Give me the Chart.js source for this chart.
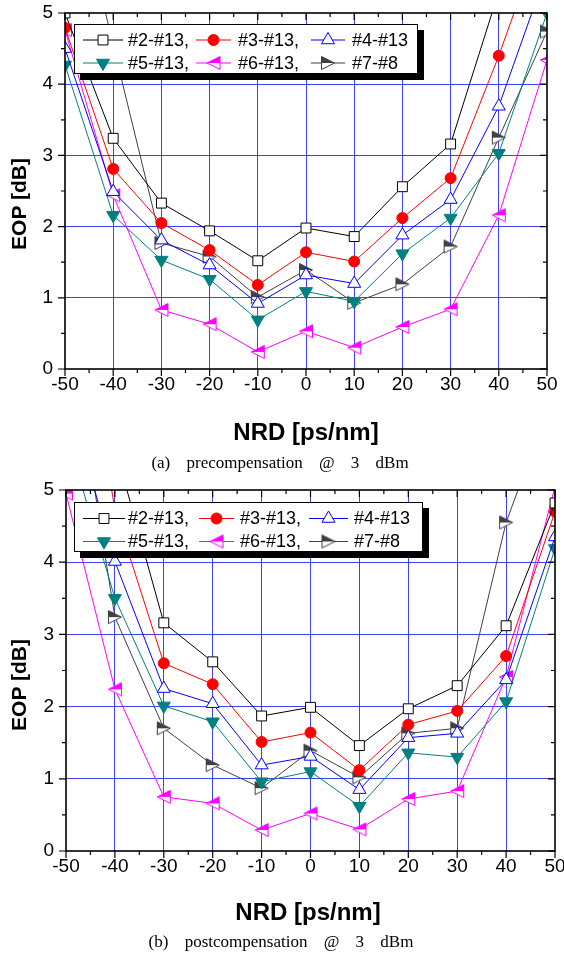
<!DOCTYPE html>
<html><head><meta charset="utf-8">
<script src="https://cdn.jsdelivr.net/npm/chart.js@4.4.0/dist/chart.umd.min.js"></script>
<style>
html,body{margin:0;padding:0;background:#fff;width:564px;height:960px;overflow:hidden;position:relative;}
.wrap{position:absolute;left:0;width:564px;}
.ytitle{position:absolute;font:bold 21px "Liberation Sans",Arial,sans-serif;transform:translate(-50%,-50%) rotate(-90deg);white-space:nowrap;color:#000;}
.xtitle{position:absolute;font:bold 24px "Liberation Sans",Arial,sans-serif;transform:translate(-50%,-50%);white-space:nowrap;color:#000;}
.cap{position:absolute;font:17px "Liberation Serif","Times New Roman",serif;transform:translate(-50%,-50%);word-spacing:12px;white-space:nowrap;color:#000;}
</style></head>
<body>
<div class="wrap" style="top:0;height:450px"><canvas id="c1" width="564" height="450"></canvas></div>
<div class="wrap" style="top:470px;height:460px"><canvas id="c2" width="564" height="460"></canvas></div>
<div class="ytitle" style="left:19px;top:204px">EOP [dB]</div>
<div class="xtitle" style="left:306px;top:432px">NRD [ps/nm]</div>
<div class="cap" style="left:280px;top:463px">(a) precompensation @ 3 dBm</div>
<div class="ytitle" style="left:19px;top:685px">EOP [dB]</div>
<div class="xtitle" style="left:308px;top:912px">NRD [ps/nm]</div>
<div class="cap" style="left:281px;top:942px">(b) postcompensation @ 3 dBm</div>
<script>
// ---------------- data ----------------
const nrd = [-50,-40,-30,-20,-10,0,10,20,30,40,50];
const xTickValues = [-50,-40,-30,-20,-10,0,10,20,30,40,50];
const xTickLabels = ['-50','-40','-30','-20','-10','0','10','20','30','40','50'];
const yTickValues = [0,1,2,3,4,5];
const yTickLabels = ['0','1','2','3','4','5'];
const seriesNames = ['#2-#13,','#3-#13,','#4-#13','#5-#13,','#6-#13,','#7-#8'];

// (a) precompensation @ 3 dBm
const preS2 = [5.00, 3.24, 2.33, 1.94, 1.52, 1.98, 1.86, 2.56, 3.16, 5.30, 7.00];
const preS3 = [4.79, 2.81, 2.05, 1.67, 1.18, 1.64, 1.51, 2.12, 2.68, 4.40, 6.30];
const preS4 = [4.50, 2.49, 1.81, 1.46, 0.92, 1.32, 1.20, 1.88, 2.38, 3.69, 5.60];
const preS5 = [4.27, 2.16, 1.53, 1.26, 0.69, 1.09, 0.95, 1.62, 2.12, 3.03, 5.00];
const preS6 = [4.76, 2.44, 0.83, 0.63, 0.24, 0.53, 0.30, 0.59, 0.84, 2.16, 4.34];
const preS7 = [7.40, 4.55, 1.77, 1.58, 1.01, 1.39, 0.93, 1.19, 1.72, 3.25, 4.74];

// (b) postcompensation @ 3 dBm
const postS2 = [9.00, 5.60, 3.16, 2.62, 1.87, 1.99, 1.46, 1.97, 2.29, 3.12, 4.82];
const postS3 = [9.00, 4.72, 2.60, 2.31, 1.51, 1.64, 1.12, 1.75, 1.94, 2.70, 4.70];
const postS4 = [6.40, 4.01, 2.25, 2.04, 1.19, 1.31, 0.85, 1.57, 1.63, 2.37, 4.35];
const postS5 = [5.80, 3.50, 2.01, 1.79, 0.96, 1.10, 0.62, 1.36, 1.30, 2.07, 4.19];
const postS6 = [4.95, 2.24, 0.75, 0.66, 0.29, 0.52, 0.30, 0.72, 0.83, 2.41, 5.05];
const postS7 = [7.50, 3.24, 1.70, 1.19, 0.87, 1.39, 1.02, 1.63, 1.70, 4.55, 6.40];

// ---------------- styles ----------------
function halfTri(dir, color) {
  const c = document.createElement('canvas'); c.width = 16; c.height = 16;
  const g = c.getContext('2d');
  let tip, b1, b2;
  if (dir === 'left') { tip = [1.5, 8]; b1 = [14.5, 1.5]; b2 = [14.5, 14.5]; }
  else { tip = [14.5, 8]; b1 = [1.5, 1.5]; b2 = [1.5, 14.5]; }
  g.beginPath(); g.moveTo(tip[0], tip[1]); g.lineTo(b1[0], b1[1]); g.lineTo(b2[0], b2[1]); g.closePath();
  g.fillStyle = '#fff'; g.fill();
  g.beginPath(); g.moveTo(tip[0], tip[1]); g.lineTo(b1[0], b1[1]); g.lineTo(b1[0], 8); g.closePath();
  g.fillStyle = color; g.fill();
  g.beginPath(); g.moveTo(tip[0], tip[1]); g.lineTo(b1[0], b1[1]); g.lineTo(b2[0], b2[1]); g.closePath();
  g.strokeStyle = color; g.lineWidth = 1; g.stroke();
  return c;
}
const styles = [
  {line:'#000000', ps:'rect', r:7, bg:'#ffffff', bc:'#000000', rot:0},
  {line:'#ff0000', ps:'circle', r:5.5, bg:'#ff0000', bc:'#ff0000', rot:0},
  {line:'#0000ff', ps:'triangle', r:7.5, bg:'#ffffff', bc:'#0000ff', rot:0},
  {line:'#008080', ps:'triangle', r:7.5, bg:'#008080', bc:'#008080', rot:180},
  {line:'#ff00ff', ps:halfTri('left', '#ff00ff'), r:7, bg:'#ff00ff', bc:'#ff00ff', rot:0},
  {line:'#404040', ps:halfTri('right', '#404040'), r:7, bg:'#404040', bc:'#404040', rot:0}
];
const xMinor = []; for (let v = -50; v <= 50; v += 5) xMinor.push(v);
const yMinor = []; for (let v = 0; v <= 5.001; v += 0.5) yMinor.push(Math.round(v*10)/10);

const tickFont = {family:'"Liberation Sans", Arial, sans-serif', size:19};

const framePlugin = {
  id: 'frame',
  afterDatasetsDraw(chart, args, o) {
    const ctx = chart.ctx, a = chart.chartArea, xs = chart.scales.x, ys = chart.scales.y;
    ctx.save();
    ctx.strokeStyle = '#000'; ctx.lineWidth = 1.2;
    ctx.beginPath();
    for (const v of xMinor) {
      const px = xs.getPixelForValue(v);
      const L = (v % 10 === 0) ? 7 : 4;
      ctx.moveTo(px, a.bottom); ctx.lineTo(px, a.bottom + L);
      ctx.moveTo(px, a.top); ctx.lineTo(px, a.top + L);
    }
    for (const v of yMinor) {
      const py = ys.getPixelForValue(v);
      const L = (Math.abs(v - Math.round(v)) < 1e-6) ? 7 : 4;
      ctx.moveTo(a.left, py); ctx.lineTo(a.left - L, py);
      ctx.moveTo(a.right, py); ctx.lineTo(a.right - L, py);
    }
    ctx.stroke();
    ctx.lineWidth = 1.6;
    ctx.strokeRect(a.left, a.top, a.right - a.left, a.bottom - a.top);

    // legend
    const L = a.left + o.dx, T = a.top + o.dy, W = o.w, H = o.h;
    ctx.fillStyle = '#000'; ctx.fillRect(L + 6, T + 6, W, H);
    ctx.fillStyle = '#fff'; ctx.fillRect(L, T, W, H);
    ctx.lineWidth = 1; ctx.strokeStyle = '#000'; ctx.strokeRect(L + 0.5, T + 0.5, W - 1, H - 1);
    ctx.font = '18px "Liberation Sans", Arial, sans-serif';
    ctx.textBaseline = 'middle'; ctx.textAlign = 'left';
    chart.data.datasets.forEach((ds, i) => {
      const col = o.cols[i % 3], rowY = T + o.rows[Math.floor(i / 3)];
      ctx.strokeStyle = ds.borderColor; ctx.lineWidth = 1;
      ctx.beginPath(); ctx.moveTo(L + col[0], rowY); ctx.lineTo(L + col[1], rowY); ctx.stroke();
      ctx.save();
      ctx.fillStyle = ds.pointBackgroundColor; ctx.strokeStyle = ds.pointBorderColor; ctx.lineWidth = 1;
      Chart.helpers.drawPoint(ctx, {pointStyle: ds.pointStyle, rotation: ds.pointRotation || 0, radius: ds.pointRadius, borderWidth: 1}, L + (col[0] + col[1]) / 2, rowY);
      ctx.restore();
      ctx.fillStyle = '#000';
      ctx.fillText(seriesNames[i], L + col[2], rowY + 1);
    });
    ctx.restore();
  }
};

function makeChart(id, series, lay) {
  const datasets = series.map((arr, i) => {
    const s = styles[i];
    return {
      label: seriesNames[i],
      data: nrd.map((x, k) => ({x: x, y: arr[k]})),
      borderColor: s.line, borderWidth: 1, backgroundColor: s.bg,
      pointStyle: s.ps, pointRadius: s.r, pointRotation: s.rot,
      pointBackgroundColor: s.bg, pointBorderColor: s.bc, pointBorderWidth: 1,
      tension: 0, fill: false
    };
  });
  return new Chart(document.getElementById(id), {
    type: 'line',
    data: {datasets: datasets},
    options: {
      responsive: false, animation: false, devicePixelRatio: 1,
      layout: {padding: {top: lay.top, right: lay.right, left: 0, bottom: 0}},
      plugins: {legend: {display: false}, tooltip: {enabled: false}, frame: lay.legend},
      scales: {
        x: {
          type: 'linear', min: -50, max: 50,
          afterBuildTicks(s) { s.ticks = xTickValues.map(v => ({value: v})); },
          ticks: {font: tickFont, color: '#000', padding: 4, maxRotation: 0, autoSkip: false,
                  callback: (v) => xTickLabels[xTickValues.indexOf(v)]},
          grid: {drawTicks: false, lineWidth: 1,
                 color: (c) => (c.tick && (c.tick.value === -50 || c.tick.value === 50)) ? 'rgba(0,0,0,0)' : 'rgba(30,30,255,0.85)'},
          border: {display: false},
          afterFit(s) { s.height = lay.xh; s.paddingLeft = 0; s.paddingRight = 0; }
        },
        y: {
          min: 0, max: 5,
          afterBuildTicks(s) { s.ticks = yTickValues.map(v => ({value: v})); },
          ticks: {font: tickFont, color: '#000', padding: 12,
                  callback: (v) => yTickLabels[yTickValues.indexOf(v)]},
          grid: {drawTicks: false, lineWidth: 1,
                 color: (c) => (c.tick && (c.tick.value === 0 || c.tick.value === 5)) ? 'rgba(0,0,0,0)' : 'rgba(30,30,255,0.85)'},
          border: {display: false},
          afterFit(s) { s.width = lay.yw; s.paddingTop = 0; s.paddingBottom = 0; }
        }
      }
    },
    plugins: [framePlugin]
  });
}

makeChart('c1', [preS2, preS3, preS4, preS5, preS6, preS7], {
  top: 13, right: 17, xh: 81, yw: 65,
  legend: {dx: 9, dy: 11, w: 344, h: 50, rows: [16, 39], cols: [[9, 49, 54], [122, 157, 164], [237, 271, 278]]}
});
makeChart('c2', [postS2, postS3, postS4, postS5, postS6, postS7], {
  top: 20, right: 9, xh: 79, yw: 66,
  legend: {dx: 8, dy: 12, w: 349, h: 50, rows: [16.5, 39.5], cols: [[9, 51, 54], [125, 160, 166], [235, 274, 280]]}
});
</script>
</body></html>
